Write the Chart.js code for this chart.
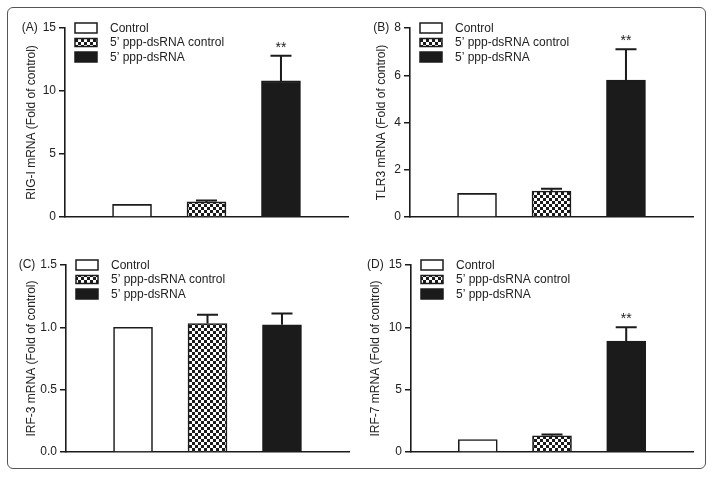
<!DOCTYPE html>
<html>
<head>
<meta charset="utf-8">
<script src="https://cdn.jsdelivr.net/npm/chart.js@4.4.1/dist/chart.umd.min.js"></script>
<style>
  html, body { margin: 0; padding: 0; background: #fff; }
  #page { position: relative; width: 714px; height: 477px; overflow: hidden; }
  #frame {
    position: absolute; left: 7px; top: 7px; width: 699px; height: 462px;
    box-sizing: border-box; border: 1.5px solid #555; border-radius: 6px;
  }
  canvas { position: absolute; }
</style>
</head>
<body>
<div id="page">
  <div id="frame"></div>
  <canvas id="pA" width="357" height="238" style="left:0;top:0"></canvas>
  <canvas id="pB" width="357" height="238" style="left:357px;top:0"></canvas>
  <canvas id="pC" width="357" height="239" style="left:0;top:238px"></canvas>
  <canvas id="pD" width="357" height="239" style="left:357px;top:238px"></canvas>
</div>
<script>
// ── data ───────────────────────────────────────────────────
const groups = ["Control", "5\u2019 ppp-dsRNA control", "5\u2019 ppp-dsRNA"];
const groupPos = [1, 2, 3];

const rigMean = [1.0, 1.2, 10.8];
const rigErr = [0, 0.1, 2.0];
const rigSig = ["", "", "**"];
const rigTicks = [0, 5, 10, 15];

const tlr3Mean = [1.0, 1.1, 5.8];
const tlr3Err = [0, 0.1, 1.3];
const tlr3Sig = ["", "", "**"];
const tlr3Ticks = [0, 2, 4, 6, 8];

const irf3Mean = [1.0, 1.03, 1.02];
const irf3Err = [0, 0.07, 0.09];
const irf3Sig = ["", "", ""];
const irf3Ticks = [0, 0.5, 1.0, 1.5];

const irf7Mean = [1.0, 1.3, 8.9];
const irf7Err = [0, 0.1, 1.1];
const irf7Sig = ["", "", "**"];
const irf7Ticks = [0, 5, 10, 15];

// ── look ───────────────────────────────────────────────────
const FONT = '"Liberation Sans", Arial, Helvetica, sans-serif';
Chart.defaults.font.family = FONT;
Chart.defaults.font.size = 12;
Chart.defaults.color = "#222";

const INK = "#1b1b1b";

function checker() {
  const c = document.createElement("canvas");
  c.width = 6; c.height = 6;
  const g = c.getContext("2d");
  g.fillStyle = "#fff"; g.fillRect(0, 0, 6, 6);
  g.fillStyle = INK;
  g.fillRect(0, 0, 3, 3);
  g.fillRect(3, 3, 3, 3);
  return g.createPattern(c, "repeat");
}
const fills = ["#fff", checker(), INK];

// error bars (upper only) + significance stars
const errorBars = {
  id: "errorBars",
  afterDatasetsDraw(chart, args, opts) {
    const { ctx, scales: { y } } = chart;
    ctx.save();
    ctx.strokeStyle = INK;
    ctx.lineWidth = 2;
    chart.data.datasets.forEach((ds, i) => {
      const bar = chart.getDatasetMeta(i).data[0];
      const err = opts.errors[i];
      const top = y.getPixelForValue(ds.data[0].y + err);
      if (err > 0) {
        ctx.beginPath();
        ctx.moveTo(bar.x, bar.y);
        ctx.lineTo(bar.x, top);
        ctx.moveTo(bar.x - 10.5, top);
        ctx.lineTo(bar.x + 10.5, top);
        ctx.stroke();
      }
      if (opts.marks[i]) {
        ctx.fillStyle = INK;
        ctx.font = "14px " + FONT;
        ctx.textAlign = "center";
        ctx.textBaseline = "alphabetic";
        ctx.fillText(opts.marks[i], bar.x, top - 4);
      }
    });
    ctx.restore();
  }
};

// legend inside the plot + panel letter left of the top tick label
const panelDecor = {
  id: "panelDecor",
  afterDraw(chart, args, opts) {
    const { ctx, chartArea: a, scales: { y } } = chart;
    ctx.save();
    ctx.font = "12px " + FONT;
    ctx.textBaseline = "middle";
    ctx.fillStyle = "#222";
    const topLabel = y.ticks[y.ticks.length - 1].label;
    const labelLeft = a.left - 9 - ctx.measureText(topLabel).width;
    ctx.textAlign = "right";
    ctx.fillText(opts.letter, labelLeft - 5, a.top);
    ctx.textAlign = "left";
    chart.data.datasets.forEach((ds, i) => {
      const cy = a.top + i * 14.5;
      const bx = a.left + 10;
      const h = i === 1 ? 8 : 10;
      ctx.fillStyle = ds.backgroundColor;
      ctx.fillRect(bx, cy - h / 2, 22, h);
      ctx.strokeStyle = INK;
      ctx.lineWidth = 1.5;
      ctx.strokeRect(bx, cy - h / 2, 22, h);
      ctx.fillStyle = "#222";
      ctx.fillText(ds.label, bx + 35, cy + 0.5);
    });
    ctx.restore();
  }
};

function makePanel(id, p) {
  // p.area in canvas px; y axis box is fixed at 45 px wide
  const canvas = document.getElementById(id);
  const yw = 45;
  const padLeft = p.area.left - yw;
  const datasets = groups.map((g, i) => ({
    label: g,
    data: [{ x: groupPos[i], y: p.mean[i] }],
    backgroundColor: fills[i],
    borderColor: INK,
    borderWidth: 1.6,
    borderSkipped: "start",
    barThickness: 39
  }));
  new Chart(canvas, {
    type: "bar",
    data: { datasets },
    options: {
      responsive: false,
      animation: false,
      layout: {
        padding: {
          left: padLeft,
          top: p.area.top,
          right: canvas.width - p.area.right,
          bottom: canvas.height - p.area.bottom
        }
      },
      datasets: { bar: { grouped: false } },
      scales: {
        x: {
          type: "linear",
          offset: false,
          min: 0.1,
          max: 3.9,
          grid: { display: false },
          ticks: { display: false },
          border: { display: true, color: INK, width: 1.6 },
          afterFit: (s) => { s.height = 0; }
        },
        y: {
          min: 0,
          max: p.ticks[p.ticks.length - 1],
          afterBuildTicks: (s) => { s.ticks = p.ticks.map((v) => ({ value: v })); },
          afterFit: (s) => { s.width = yw; },
          grid: { drawOnChartArea: false, drawTicks: true, tickLength: 6, color: INK, lineWidth: 1.5 },
          border: { display: true, color: INK, width: 1.6 },
          ticks: {
            padding: 3,
            color: "#222",
            font: { size: 12 },
            callback: (v) => (p.decimals ? v.toFixed(p.decimals) : String(v))
          },
          title: {
            display: true,
            text: p.title,
            color: "#222",
            font: { size: 12 },
            padding: { top: p.titleCenter - padLeft - 7.2, bottom: 0 }
          }
        }
      },
      plugins: {
        legend: { display: false },
        tooltip: { enabled: false },
        errorBars: { errors: p.err, marks: p.sig },
        panelDecor: { letter: p.letter }
      }
    },
    plugins: [errorBars, panelDecor]
  });
}

makePanel("pA", {
  mean: rigMean, err: rigErr, sig: rigSig, ticks: rigTicks, decimals: 0,
  title: "RIG-I mRNA (Fold of control)", letter: "(A)",
  area: { left: 65, top: 28, right: 348, bottom: 217 }, titleCenter: 32
});
makePanel("pB", {
  mean: tlr3Mean, err: tlr3Err, sig: tlr3Sig, ticks: tlr3Ticks, decimals: 0,
  title: "TLR3 mRNA (Fold of control)", letter: "(B)",
  area: { left: 53, top: 28, right: 336, bottom: 217 }, titleCenter: 25
});
makePanel("pC", {
  mean: irf3Mean, err: irf3Err, sig: irf3Sig, ticks: irf3Ticks, decimals: 1,
  title: "IRF-3 mRNA (Fold of control)", letter: "(C)",
  area: { left: 66, top: 27, right: 349, bottom: 214 }, titleCenter: 32
});
makePanel("pD", {
  mean: irf7Mean, err: irf7Err, sig: irf7Sig, ticks: irf7Ticks, decimals: 0,
  title: "IRF-7 mRNA (Fold of control)", letter: "(D)",
  area: { left: 54, top: 27, right: 336, bottom: 214 }, titleCenter: 19
});
</script>
</body>
</html>
